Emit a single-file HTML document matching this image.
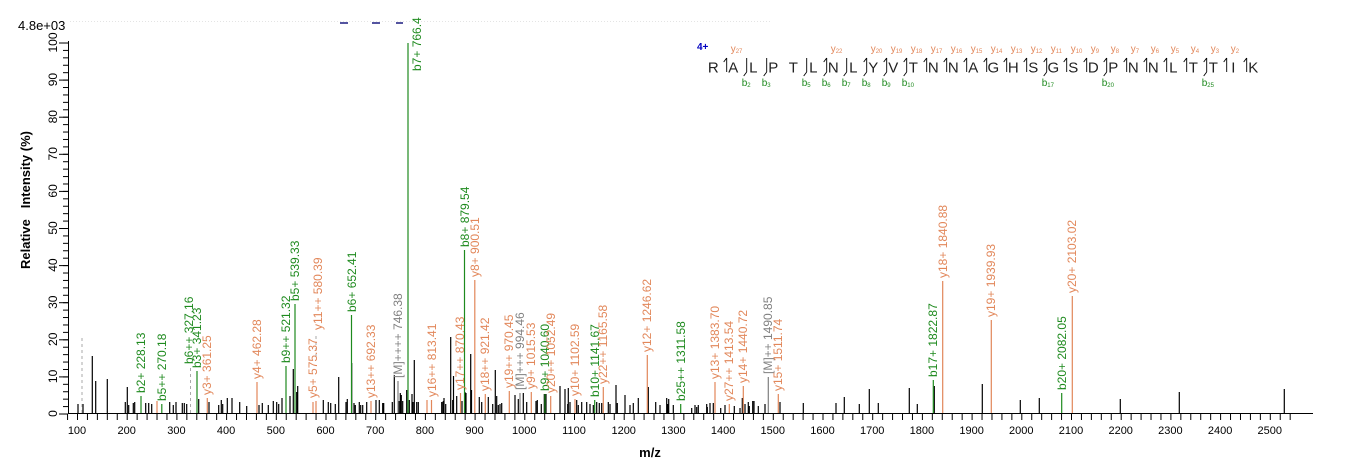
<!DOCTYPE html>
<html><head><meta charset="utf-8"><style>
html,body{margin:0;padding:0;background:#fff;}
svg{display:block;font-family:"Liberation Sans",Arial,sans-serif;}
.g{fill:#1e8a1e}.o{fill:#e2875a}.gr{fill:#808080}
.lg{stroke:#1e8a1e}.lo{stroke:#e2875a}.lgr{stroke:#808080}
</style></head><body>
<svg width="1362" height="473" viewBox="0 0 1362 473" xmlns="http://www.w3.org/2000/svg">
<defs>
<pattern id="xt" x="67.06" y="0" width="9.94" height="10" patternUnits="userSpaceOnUse"><rect x="0" y="0" width="1" height="10" fill="#000"/></pattern>
<pattern id="ym" x="0" y="413.5" width="10" height="7.42" patternUnits="userSpaceOnUse"><rect x="0" y="0" width="10" height="1" fill="#000"/></pattern>
<pattern id="yM" x="0" y="413.5" width="10" height="37.1" patternUnits="userSpaceOnUse"><rect x="0" y="0" width="10" height="1" fill="#000"/></pattern>
</defs>
<rect width="1362" height="473" fill="#fff"/>
<text x="18" y="30" font-size="13" fill="#000">4.8e+03</text>
<line x1="70" y1="21.5" x2="770" y2="21.5" stroke="#e4e4e4" stroke-dasharray="1,2"/>
<g stroke="#1a1a80" stroke-width="1.5"><line x1="340" y1="23" x2="348" y2="23"/><line x1="372" y1="23" x2="380" y2="23"/><line x1="396" y1="23" x2="403" y2="23"/></g>
<!-- axes -->
<line x1="68.5" y1="41" x2="68.5" y2="414" stroke="#000"/>
<line x1="68" y1="413.5" x2="1313" y2="413.5" stroke="#000"/>
<rect x="63" y="41" width="5" height="374" fill="url(#ym)"/>
<rect x="59" y="41" width="9" height="374" fill="url(#yM)"/>
<rect x="67" y="414" width="1225" height="6" fill="url(#xt)"/>
<g font-size="12" fill="#000" text-anchor="middle">
<text transform="translate(57,413.5) rotate(-90)">0</text>
<text transform="translate(57,376.4) rotate(-90)">10</text>
<text transform="translate(57,339.3) rotate(-90)">20</text>
<text transform="translate(57,302.2) rotate(-90)">30</text>
<text transform="translate(57,265.1) rotate(-90)">40</text>
<text transform="translate(57,228) rotate(-90)">50</text>
<text transform="translate(57,190.9) rotate(-90)">60</text>
<text transform="translate(57,153.8) rotate(-90)">70</text>
<text transform="translate(57,116.7) rotate(-90)">80</text>
<text transform="translate(57,79.6) rotate(-90)">90</text>
<text transform="translate(57,42.5) rotate(-90)">100</text>
</g>
<text transform="translate(30,200) rotate(-90)" font-size="13" font-weight="bold" text-anchor="middle" xml:space="preserve">Relative   Intensity (%)</text>
<g font-size="11" fill="#000" text-anchor="middle">
<text x="77" y="434">100</text><text x="126.7" y="434">200</text><text x="176.4" y="434">300</text><text x="226.1" y="434">400</text><text x="275.8" y="434">500</text><text x="325.5" y="434">600</text><text x="375.2" y="434">700</text><text x="424.9" y="434">800</text><text x="474.6" y="434">900</text><text x="524.3" y="434">1000</text><text x="574" y="434">1100</text><text x="623.7" y="434">1200</text><text x="673.4" y="434">1300</text><text x="723.1" y="434">1400</text><text x="772.8" y="434">1500</text><text x="822.5" y="434">1600</text><text x="872.2" y="434">1700</text><text x="921.9" y="434">1800</text><text x="971.6" y="434">1900</text><text x="1021.3" y="434">2000</text><text x="1071" y="434">2100</text><text x="1120.7" y="434">2200</text><text x="1170.4" y="434">2300</text><text x="1220.1" y="434">2400</text><text x="1269.8" y="434">2500</text>
</g>
<text x="650" y="457" font-size="13" font-weight="bold" text-anchor="middle">m/z</text>
<!-- black peaks -->
<path stroke="#000" stroke-width="1.2" fill="none" d="M78 413V404M83 413V404M92.3 413V356M95.7 413V381M107.3 413V379M125.3 413V402M127.3 413V387M128.7 413V405M133.3 413V403M134.7 413V402M145.7 413V403M148.7 413V403M151.7 413V404M169.7 413V402M173.3 413V405M176 413V402M182.3 413V403M184.3 413V403M186.7 413V404M198.7 413V399M209 413V402M218.7 413V405M221.3 413V400M222.7 413V404M227.3 413V398M232 413V398M239.7 413V402M246.7 413V406M259 413V405M262.3 413V403M268.3 413V405M273.3 413V401M276.7 413V402M278.7 413V404M282 413V398M290 413V396M293.3 413V369M296.7 413V392M297.7 413V386M323.3 413V400M328.3 413V402M330.7 413V403M335.3 413V404M338.7 413V377M346 413V402M347.3 413V399M351.7 413V363M354 413V403M355.3 413V405M359.3 413V402M360.7 413V405M362.7 413V405M366.7 413V402M376 413V400M379.3 413V400M382.7 413V403M383.7 413V403M392.3 413V402M394.3 413V375M399 413V401M400.3 413V393M401.3 413V395M402.7 413V401M406.7 413V390M409.3 413V400M412 413V394M413 413V402M414.3 413V360M416.7 413V402M418.3 413V402M442 413V402M444 413V398M445.7 413V404M441.7 413V402M443.3 413V401M450.7 413V337M452.7 413V400M453.5 413V376M456.7 413V396M462 413V401M465 413V392M466 413V393M470.7 413V354M471.5 413V390M479.3 413V397M481.7 413V402M488.3 413V397M492.7 413V404M495.3 413V370M496.7 413V396M498.3 413V405M500 413V404M501.7 413V403M515 413V395M518.3 413V399M523.3 413V393M526.7 413V402M536 413V401M537.3 413V400M541.3 413V404M544.3 413V394M546 413V394M560 413V386M565 413V389M567.7 413V404M568.3 413V388M570 413V402M576.7 413V400M578.3 413V405M581.7 413V402M586.7 413V402M590 413V404M593.3 413V405M596.7 413V402M599.3 413V403M601.7 413V403M608.3 413V402M610 413V404M616 413V385M617.3 413V403M625 413V395M630 413V405M633.3 413V403M638.3 413V398M648.3 413V387M655.7 413V402M660 413V405M666.7 413V398M667.7 413V404M668.7 413V399M673.3 413V405M691.7 413V408M695 413V405M696.7 413V407M698.3 413V405M706.7 413V404M707.3 413V407M710 413V403M713.3 413V403M720.7 413V408M725 413V405M734.3 413V406M740 413V408M742.3 413V398M745 413V404M748.3 413V402M749.3 413V406M752.7 413V401M754 413V401M758.3 413V406M765 413V404M780 413V402M803.3 413V403M836 413V403M844.3 413V397M859.3 413V404M869.3 413V389M878.3 413V403M909.3 413V388M917.3 413V404M934.3 413V386M982.3 413V384M1020.3 413V400M1039.3 413V398M1120.3 413V399M1179.3 413V392M1284.3 413V389"/>
<!-- dashed grey -->
<g stroke="#aaa" stroke-dasharray="3,3"><line x1="82" y1="413" x2="82" y2="337"/><line x1="190.5" y1="413" x2="190.5" y2="367"/><line x1="316" y1="336" x2="316" y2="360"/></g>
<!-- annotated peaks -->
<g stroke-width="1.2" fill="none">
<path class="lg" d="M141 413V396M161.8 413V404M197 413V371M286 413V366M295 413V304M351.5 413V315M408 413V43M464.5 413V250M545 413V394M594.7 413V400M680.7 413V404M933.3 413V380M1061.7 413V393"/>
<path class="lo" d="M157 413V401M207.3 413V398M257 413V382M313 413V402M316 413V401M371 413V401M427 413V400M431.5 413V400M460.5 413V393M474.8 413V280M485.3 413V394M509.3 413V391M531.3 413V392M550.7 413V396M575 413V399M603.3 413V387M647.3 413V355M715 413V382M729.3 413V404M743.3 413V386M778.3 413V394M942.7 413V281M991.3 413V320M1072.3 413V296"/>
<path class="lgr" d="M398 413V381M520 413V393M768.3 413V377"/>
</g>
<g font-size="12">
<text class="g" transform="translate(145,393) rotate(-90)">b2+ 228.13</text>
<text class="g" transform="translate(166,401) rotate(-90)">b5++ 270.18</text>
<text class="g" transform="translate(193,364) rotate(-90)">b6++ 327.16</text>
<text class="g" transform="translate(201,368) rotate(-90)">b3+ 341.23</text>
<text class="o" transform="translate(211,395) rotate(-90)">y3+ 361.25</text>
<text class="o" transform="translate(261,379) rotate(-90)">y4+ 462.28</text>
<text class="g" transform="translate(290,363) rotate(-90)">b9++ 521.32</text>
<text class="g" transform="translate(299,301) rotate(-90)">b5+ 539.33</text>
<text class="o" transform="translate(317,398) rotate(-90)">y5+ 575.37</text>
<text class="o" transform="translate(322,330) rotate(-90)">y11++ 580.39</text>
<text class="g" transform="translate(356,312) rotate(-90)">b6+ 652.41</text>
<text class="o" transform="translate(375,398) rotate(-90)">y13++ 692.33</text>
<text class="gr" transform="translate(402,378) rotate(-90)">[M]++++ 746.38</text>
<text class="g" transform="translate(421,71) rotate(-90)">b7+ 766.4</text>
<text class="o" transform="translate(436,397) rotate(-90)">y16++ 813.41</text>
<text class="o" transform="translate(464,390) rotate(-90)">y17++ 870.43</text>
<text class="g" transform="translate(469,247) rotate(-90)">b8+ 879.54</text>
<text class="o" transform="translate(479,277) rotate(-90)">y8+ 900.51</text>
<text class="o" transform="translate(489,391) rotate(-90)">y18++ 921.42</text>
<text class="o" transform="translate(513,388) rotate(-90)">y19++ 970.45</text>
<text class="gr" transform="translate(524,390) rotate(-90)">[M]+++ 994.46</text>
<text class="o" transform="translate(535,389) rotate(-90)">y9+ 1015.53</text>
<text class="g" transform="translate(549,391) rotate(-90)">b9+ 1040.60</text>
<text class="o" transform="translate(555,393) rotate(-90)">y20++ 1052.49</text>
<text class="o" transform="translate(579,396) rotate(-90)">y10+ 1102.59</text>
<text class="g" transform="translate(599,397) rotate(-90)">b10+ 1141.67</text>
<text class="o" transform="translate(607,384) rotate(-90)">y22++ 1165.58</text>
<text class="o" transform="translate(651,352) rotate(-90)">y12+ 1246.62</text>
<text class="g" transform="translate(685,401) rotate(-90)">b25++ 1311.58</text>
<text class="o" transform="translate(719,379) rotate(-90)">y13+ 1383.70</text>
<text class="o" transform="translate(733,401) rotate(-90)">y27++ 1413.54</text>
<text class="o" transform="translate(747,383) rotate(-90)">y14+ 1440.72</text>
<text class="gr" transform="translate(772,374) rotate(-90)">[M]++ 1490.85</text>
<text class="o" transform="translate(782,391) rotate(-90)">y15+ 1511.74</text>
<text class="g" transform="translate(937,377) rotate(-90)">b17+ 1822.87</text>
<text class="o" transform="translate(947,278) rotate(-90)">y18+ 1840.88</text>
<text class="o" transform="translate(995,317) rotate(-90)">y19+ 1939.93</text>
<text class="g" transform="translate(1066,390) rotate(-90)">b20+ 2082.05</text>
<text class="o" transform="translate(1076,293) rotate(-90)">y20+ 2103.02</text>
</g>
<!-- sequence -->
<text x="697" y="50" font-size="10" font-weight="bold" fill="#0000c0">4+</text>
<g font-size="15" fill="#222" text-anchor="middle">
<text x="713.3" y="72.5">R</text><text x="733.3" y="72.5">A</text><text x="753.3" y="72.5">L</text><text x="773.3" y="72.5">P</text><text x="793.3" y="72.5">T</text><text x="813.3" y="72.5">L</text><text x="833.3" y="72.5">N</text><text x="853.3" y="72.5">L</text><text x="873.3" y="72.5">Y</text><text x="893.3" y="72.5">V</text><text x="913.3" y="72.5">T</text><text x="933.3" y="72.5">N</text><text x="953.3" y="72.5">N</text><text x="973.3" y="72.5">A</text><text x="993.3" y="72.5">G</text><text x="1013.3" y="72.5">H</text><text x="1033.3" y="72.5">S</text><text x="1053.3" y="72.5">G</text><text x="1073.3" y="72.5">S</text><text x="1093.3" y="72.5">D</text><text x="1113.3" y="72.5">P</text><text x="1133.3" y="72.5">N</text><text x="1153.3" y="72.5">N</text><text x="1173.3" y="72.5">L</text><text x="1193.3" y="72.5">T</text><text x="1213.3" y="72.5">T</text><text x="1233.3" y="72.5">I</text><text x="1253.3" y="72.5">K</text>
</g>
<path stroke="#000" stroke-width="0.9" fill="none" d="M726.7 58V72M746.7 58V72M766.7 58V72M806.7 58V72M826.7 58V72M846.7 58V72M866.7 58V72M886.7 58V72M906.7 58V72M926.7 58V72M946.7 58V72M966.7 58V72M986.7 58V72M1006.7 58V72M1026.7 58V72M1046.7 58V72M1066.7 58V72M1086.7 58V72M1106.7 58V72M1126.7 58V72M1146.7 58V72M1166.7 58V72M1186.7 58V72M1206.7 58V72M1226.7 58V72M1246.7 58V72
M723.7 62L726.7 58M823.7 62L826.7 58M863.7 62L866.7 58M883.7 62L886.7 58M903.7 62L906.7 58M923.7 62L926.7 58M943.7 62L946.7 58M963.7 62L966.7 58M983.7 62L986.7 58M1003.7 62L1006.7 58M1023.7 62L1026.7 58M1043.7 62L1046.7 58M1063.7 62L1066.7 58M1083.7 62L1086.7 58M1103.7 62L1106.7 58M1123.7 62L1126.7 58M1143.7 62L1146.7 58M1163.7 62L1166.7 58M1183.7 62L1186.7 58M1203.7 62L1206.7 58M1223.7 62L1226.7 58M1243.7 62L1246.7 58
M746.7 72L743.7 76M766.7 72L763.7 76M806.7 72L803.7 76M826.7 72L823.7 76M846.7 72L843.7 76M866.7 72L863.7 76M886.7 72L883.7 76M906.7 72L903.7 76M1046.7 72L1043.7 76M1106.7 72L1103.7 76M1206.7 72L1203.7 76"/>
<g font-size="10" class="o">
<text x="730.7" y="52">y<tspan font-size="6" dy="1">27</tspan></text>
<text x="830.7" y="52">y<tspan font-size="6" dy="1">22</tspan></text>
<text x="870.7" y="52">y<tspan font-size="6" dy="1">20</tspan></text>
<text x="890.7" y="52">y<tspan font-size="6" dy="1">19</tspan></text>
<text x="910.7" y="52">y<tspan font-size="6" dy="1">18</tspan></text>
<text x="930.7" y="52">y<tspan font-size="6" dy="1">17</tspan></text>
<text x="950.7" y="52">y<tspan font-size="6" dy="1">16</tspan></text>
<text x="970.7" y="52">y<tspan font-size="6" dy="1">15</tspan></text>
<text x="990.7" y="52">y<tspan font-size="6" dy="1">14</tspan></text>
<text x="1010.7" y="52">y<tspan font-size="6" dy="1">13</tspan></text>
<text x="1030.7" y="52">y<tspan font-size="6" dy="1">12</tspan></text>
<text x="1050.7" y="52">y<tspan font-size="6" dy="1">11</tspan></text>
<text x="1070.7" y="52">y<tspan font-size="6" dy="1">10</tspan></text>
<text x="1090.7" y="52">y<tspan font-size="6" dy="1">9</tspan></text>
<text x="1110.7" y="52">y<tspan font-size="6" dy="1">8</tspan></text>
<text x="1130.7" y="52">y<tspan font-size="6" dy="1">7</tspan></text>
<text x="1150.7" y="52">y<tspan font-size="6" dy="1">6</tspan></text>
<text x="1170.7" y="52">y<tspan font-size="6" dy="1">5</tspan></text>
<text x="1190.7" y="52">y<tspan font-size="6" dy="1">4</tspan></text>
<text x="1210.7" y="52">y<tspan font-size="6" dy="1">3</tspan></text>
<text x="1230.7" y="52">y<tspan font-size="6" dy="1">2</tspan></text>
</g>
<g font-size="10" class="g">
<text x="741.7" y="86">b<tspan font-size="6" dy="1">2</tspan></text>
<text x="761.7" y="86">b<tspan font-size="6" dy="1">3</tspan></text>
<text x="801.7" y="86">b<tspan font-size="6" dy="1">5</tspan></text>
<text x="821.7" y="86">b<tspan font-size="6" dy="1">6</tspan></text>
<text x="841.7" y="86">b<tspan font-size="6" dy="1">7</tspan></text>
<text x="861.7" y="86">b<tspan font-size="6" dy="1">8</tspan></text>
<text x="881.7" y="86">b<tspan font-size="6" dy="1">9</tspan></text>
<text x="901.7" y="86">b<tspan font-size="6" dy="1">10</tspan></text>
<text x="1041.7" y="86">b<tspan font-size="6" dy="1">17</tspan></text>
<text x="1101.7" y="86">b<tspan font-size="6" dy="1">20</tspan></text>
<text x="1201.7" y="86">b<tspan font-size="6" dy="1">25</tspan></text>
</g>
</svg>
</body></html>
